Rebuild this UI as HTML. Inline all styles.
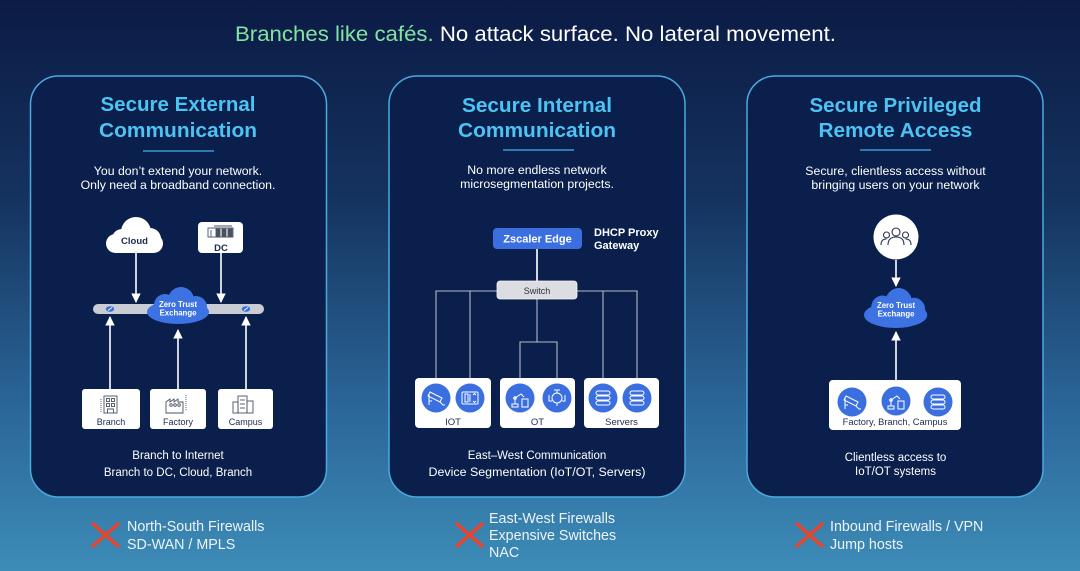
<!DOCTYPE html>
<html><head><meta charset="utf-8"><style>
html,body{margin:0;padding:0;width:1080px;height:571px;overflow:hidden;background:#0c1d47}
svg{display:block}
text{font-family:"Liberation Sans",Arial,sans-serif}
</style></head><body>
<svg width="1080" height="571" viewBox="0 0 1080 571" xmlns="http://www.w3.org/2000/svg">
<defs>
<linearGradient id="bg" x1="0" y1="0" x2="0" y2="1">
<stop offset="0" stop-color="#0b1b45"/>
<stop offset="0.35" stop-color="#15335f"/>
<stop offset="0.7" stop-color="#2a6496"/>
<stop offset="1" stop-color="#3d8cb8"/>
</linearGradient>
<marker id="ah" viewBox="0 0 10 10" refX="9" refY="5" markerWidth="6" markerHeight="6" orient="auto"><path d="M0,0 L10,5 L0,10 z" fill="#fff"/></marker>
</defs>
<rect width="1080" height="571" fill="url(#bg)"/>

<!-- main title -->
<text x="535.5" y="41" font-size="21.5" text-anchor="middle" textLength="601" lengthAdjust="spacingAndGlyphs"><tspan fill="#84e2a2">Branches like cafés.</tspan><tspan fill="#ffffff"> No attack surface. No lateral movement.</tspan></text>

<!-- cards -->
<rect x="30.5" y="76" width="296" height="421" rx="28" fill="#0a1f4c" stroke="#4aa9dd" stroke-width="1.5"/>
<rect x="389" y="76" width="296" height="421" rx="28" fill="#0a1f4c" stroke="#4aa9dd" stroke-width="1.5"/>
<rect x="747" y="76" width="296" height="421" rx="28" fill="#0a1f4c" stroke="#4aa9dd" stroke-width="1.5"/>

<!-- card titles -->
<g fill="#4dc3f3" font-weight="bold" font-size="20" text-anchor="middle">
<text x="178" y="111" textLength="155" lengthAdjust="spacingAndGlyphs">Secure External</text>
<text x="178" y="137" textLength="158" lengthAdjust="spacingAndGlyphs">Communication</text>
<text x="537" y="112" textLength="150" lengthAdjust="spacingAndGlyphs">Secure Internal</text>
<text x="537" y="137" textLength="158" lengthAdjust="spacingAndGlyphs">Communication</text>
<text x="895.5" y="112" textLength="172" lengthAdjust="spacingAndGlyphs">Secure Privileged</text>
<text x="895.5" y="137" textLength="154" lengthAdjust="spacingAndGlyphs">Remote Access</text>
</g>
<g stroke="#3a9ad2" stroke-width="1.5">
<line x1="143" y1="151" x2="214" y2="151"/>
<line x1="503" y1="150" x2="574" y2="150"/>
<line x1="860" y1="150" x2="931" y2="150"/>
</g>

<!-- subtitles -->
<g fill="#ffffff" font-size="12.3" text-anchor="middle">
<text x="178" y="175">You don’t extend your network.</text>
<text x="178" y="189">Only need a broadband connection.</text>
<text x="537" y="174">No more endless network</text>
<text x="537" y="188">microsegmentation projects.</text>
<text x="895.5" y="175">Secure, clientless  access without</text>
<text x="895.5" y="189">bringing users on your network</text>
</g>

<!-- ===== Card 1 diagram ===== -->
<g transform="translate(106,217)" fill="#ffffff">
<rect x="0" y="17" width="57" height="19" rx="9.5"/>
<circle cx="16" cy="22" r="10"/>
<circle cx="30" cy="15" r="15"/>
<circle cx="44" cy="22" r="11"/>
</g>
<text x="134.5" y="244" font-size="9.5" font-weight="bold" fill="#1c2b4e" text-anchor="middle">Cloud</text>
<rect x="198" y="222" width="45" height="31" rx="4" fill="#ffffff"/>
<g stroke="#4a5262" stroke-width="0.9" fill="none">
<rect x="208" y="228" width="25" height="9"/>
<line x1="211" y1="230" x2="211" y2="237"/>
<rect x="216" y="229" width="4" height="8" fill="#4a5262"/>
<rect x="222" y="229" width="4" height="8" fill="#4a5262"/>
<rect x="228" y="229" width="4" height="8" fill="#4a5262"/>
<line x1="214" y1="226" x2="232" y2="226"/>
</g>
<text x="221" y="251" font-size="9.5" font-weight="bold" fill="#1c2b4e" text-anchor="middle">DC</text>
<g stroke="#ffffff" stroke-width="1.6">
<line x1="136" y1="253" x2="136" y2="302" marker-end="url(#ah)"/>
<line x1="221" y1="253" x2="221" y2="302" marker-end="url(#ah)"/>
</g>
<rect x="93" y="304" width="171" height="10" rx="5" fill="#c9ccd2"/>
<ellipse cx="110" cy="309" rx="4.2" ry="2.8" fill="#3b6fe0"/>
<line x1="108" y1="310.5" x2="112" y2="307.5" stroke="#fff" stroke-width="0.8"/>
<ellipse cx="246" cy="309" rx="4.2" ry="2.8" fill="#3b6fe0"/>
<line x1="244" y1="310.5" x2="248" y2="307.5" stroke="#fff" stroke-width="0.8"/>
<g transform="translate(146,287)" fill="#3d72e3">
<ellipse cx="32" cy="25" rx="31" ry="12"/>
<circle cx="19" cy="18" r="11"/>
<circle cx="35" cy="13" r="13"/>
<circle cx="50" cy="20" r="11"/>
</g>
<g fill="#ffffff" font-size="7.8" font-weight="bold" text-anchor="middle">
<text x="178" y="307">Zero Trust</text>
<text x="178" y="315.5">Exchange</text>
</g>
<g stroke="#ffffff" stroke-width="1.6">
<line x1="110" y1="389" x2="110" y2="317" marker-end="url(#ah)"/>
<line x1="178" y1="389" x2="178" y2="330" marker-end="url(#ah)"/>
<line x1="246" y1="389" x2="246" y2="317" marker-end="url(#ah)"/>
</g>
<g fill="#ffffff">
<rect x="82" y="389" width="58" height="40" rx="3"/>
<rect x="150" y="389" width="56" height="40" rx="3"/>
<rect x="218" y="389" width="55" height="40" rx="3"/>
</g>
<g stroke="#4a5262" stroke-width="0.9" fill="none">
<rect x="104" y="396" width="13" height="17"/>
<rect x="106.5" y="398.5" width="3" height="3"/><rect x="111.5" y="398.5" width="3" height="3"/>
<rect x="106.5" y="403.5" width="3" height="3"/><rect x="111.5" y="403.5" width="3" height="3"/>
<path d="M107.5,413 v-4 h6 v4"/>
<line x1="101" y1="399" x2="101" y2="412" stroke-dasharray="1,1"/>
<path d="M166,413 v-11 l4,-3 v3 l4,-3 v3 l4,-3 v3 h5 v11 z"/>
<circle cx="171" cy="405" r="1.3"/><circle cx="175" cy="405" r="1.3"/><circle cx="179" cy="405" r="1.3"/>
<line x1="186" y1="395" x2="186" y2="411" stroke-dasharray="1,1"/>
<rect x="238" y="396" width="9" height="17"/>
<rect x="233" y="402" width="5" height="11"/>
<rect x="247" y="401" width="6" height="12"/>
<line x1="240" y1="400" x2="245" y2="400"/><line x1="240" y1="404" x2="245" y2="404"/><line x1="240" y1="408" x2="245" y2="408"/>
</g>
<g fill="#1c2b4e" font-size="9" text-anchor="middle">
<text x="111" y="425">Branch</text>
<text x="178" y="425">Factory</text>
<text x="245.5" y="425">Campus</text>
</g>

<!-- ===== Card 2 diagram ===== -->
<rect x="493" y="228" width="89" height="21" rx="4" fill="#3b6fe0"/>
<text x="537.5" y="242.5" font-size="11" font-weight="bold" fill="#ffffff" text-anchor="middle">Zscaler Edge</text>
<g fill="#ffffff" font-size="11" font-weight="bold">
<text x="594" y="236">DHCP Proxy</text>
<text x="594" y="249">Gateway</text>
</g>
<line x1="537" y1="249" x2="537" y2="281" stroke="#d4d7dd" stroke-width="2"/>
<g stroke="#b6bbc6" stroke-width="1.1" fill="none">
<polyline points="436,378 436,291 637,291 637,378"/>
<line x1="470" y1="291" x2="470" y2="378"/>
<line x1="603" y1="291" x2="603" y2="378"/>
<line x1="537" y1="299" x2="537" y2="342"/>
<polyline points="520,378 520,342 557,342 557,378"/>
</g>
<rect x="497" y="281" width="80" height="18" rx="3" fill="#dcdde1" stroke="#f2f3f5" stroke-width="0.8"/>
<text x="537" y="294" font-size="9" fill="#2a3040" text-anchor="middle">Switch</text>
<g fill="#ffffff">
<rect x="415" y="378" width="76" height="50" rx="4"/>
<rect x="500" y="378" width="75" height="50" rx="4"/>
<rect x="584" y="378" width="75" height="50" rx="4"/>
</g>
<g fill="#3b6fe0">
<circle cx="436" cy="398" r="14.5"/><circle cx="470" cy="398" r="14.5"/>
<circle cx="520" cy="398" r="14.5"/><circle cx="557" cy="398" r="14.5"/>
<circle cx="603" cy="398" r="14.5"/><circle cx="637" cy="398" r="14.5"/>
</g>
<g stroke="#ffffff" stroke-width="1" fill="none">
<path d="M430,392 l12,6 l-2,4 l-12,-6 z"/>
<path d="M429,394 v11 M429,401 h3 M440,402 l3,3 h2"/>
<rect x="462" y="392" width="16" height="12" rx="1"/>
<rect x="465" y="394" width="3" height="8"/>
<line x1="470" y1="394" x2="470" y2="402"/>
<path d="M473,395 l1.5,-1.5 l1.5,1.5 M473,401 l1.5,1.5 l1.5,-1.5"/>
<rect x="512" y="404" width="6" height="3"/>
<path d="M515,404 v-6 l6,-4 l3,3"/>
<circle cx="515" cy="398" r="1.3"/>
<rect x="522" y="399" width="6" height="8"/>
<circle cx="557" cy="398" r="5"/>
<path d="M549,395 v6 h3 M565,395 v6 h-3 M557,393 v-3 M554,390 h6 M557,403 v3"/>
<rect x="596" y="391" width="14" height="4" rx="2"/>
<rect x="596" y="396" width="14" height="4" rx="2"/>
<rect x="596" y="401" width="14" height="4" rx="2"/>
<rect x="630" y="391" width="14" height="4" rx="2"/>
<rect x="630" y="396" width="14" height="4" rx="2"/>
<rect x="630" y="401" width="14" height="4" rx="2"/>
</g>
<g fill="#1c2b4e" font-size="9.5" text-anchor="middle">
<text x="453" y="425">IOT</text>
<text x="537.5" y="425">OT</text>
<text x="621.5" y="425">Servers</text>
</g>

<!-- ===== Card 3 diagram ===== -->
<circle cx="896" cy="237" r="22.5" fill="#ffffff"/>
<g stroke="#2a3550" stroke-width="1.1" fill="none">
<circle cx="896" cy="232" r="4"/>
<path d="M888,245 q0,-8 8,-8 q8,0 8,8"/>
<circle cx="886.5" cy="235" r="3"/>
<path d="M881,245 q0,-6 5.5,-6"/>
<circle cx="905.5" cy="235" r="3"/>
<path d="M911,245 q0,-6 -5.5,-6"/>
</g>
<line x1="896" y1="260" x2="896" y2="286" stroke="#fff" stroke-width="1.6" marker-end="url(#ah)"/>
<g transform="translate(863,288) scale(1.02,1.08)" fill="#3d72e3">
<ellipse cx="32" cy="25" rx="31" ry="12"/>
<circle cx="19" cy="18" r="11"/>
<circle cx="35" cy="13" r="13"/>
<circle cx="50" cy="20" r="11"/>
</g>
<g fill="#ffffff" font-size="7.8" font-weight="bold" text-anchor="middle">
<text x="896" y="308">Zero Trust</text>
<text x="896" y="316.5">Exchange</text>
</g>
<line x1="896" y1="380" x2="896" y2="332" stroke="#fff" stroke-width="1.6" marker-end="url(#ah)"/>
<rect x="829" y="380" width="132" height="50" rx="4" fill="#ffffff"/>
<g fill="#3b6fe0">
<circle cx="852" cy="402" r="14.5"/><circle cx="896" cy="401" r="14.5"/><circle cx="938" cy="402" r="14.5"/>
</g>
<g stroke="#ffffff" stroke-width="1" fill="none">
<path d="M846,396 l12,6 l-2,4 l-12,-6 z"/>
<path d="M845,398 v11 M845,405 h3 M856,406 l3,3 h2"/>
<rect x="888" y="406" width="6" height="3"/>
<path d="M891,406 v-6 l6,-4 l3,3"/>
<circle cx="891" cy="400" r="1.3"/>
<rect x="898" y="401" width="6" height="8"/>
<rect x="931" y="395" width="14" height="4" rx="2"/>
<rect x="931" y="400" width="14" height="4" rx="2"/>
<rect x="931" y="405" width="14" height="4" rx="2"/>
</g>
<text x="895" y="425" font-size="9.3" fill="#1c2b4e" text-anchor="middle">Factory, Branch, Campus</text>

<!-- bottom descriptions in cards -->
<g fill="#ffffff" font-size="11.5" text-anchor="middle">
<text x="178" y="459">Branch to Internet</text>
<text x="178" y="476">Branch to DC, Cloud, Branch</text>
<text x="537" y="459">East–West Communication</text>
<text x="537" y="476" textLength="217" lengthAdjust="spacingAndGlyphs">Device Segmentation (IoT/OT, Servers)</text>
<text x="895.5" y="461">Clientless access to</text>
<text x="895.5" y="475">IoT/OT systems</text>
</g>

<!-- red X marks -->
<g stroke="#e5462f" stroke-width="3.5" stroke-linecap="round">
<line x1="93" y1="524" x2="118" y2="546"/><line x1="118" y1="524" x2="93" y2="546"/>
<line x1="457" y1="524" x2="482" y2="546"/><line x1="482" y1="524" x2="457" y2="546"/>
<line x1="797" y1="524" x2="822" y2="546"/><line x1="822" y1="524" x2="797" y2="546"/>
</g>
<g fill="#eef3f8" font-size="14.3">
<text x="127" y="531">North-South Firewalls</text>
<text x="127" y="549">SD-WAN / MPLS</text>
<text x="489" y="523">East-West Firewalls</text>
<text x="489" y="540">Expensive Switches</text>
<text x="489" y="557">NAC</text>
<text x="830" y="531">Inbound Firewalls / VPN</text>
<text x="830" y="549">Jump hosts</text>
</g>
</svg>
</body></html>
